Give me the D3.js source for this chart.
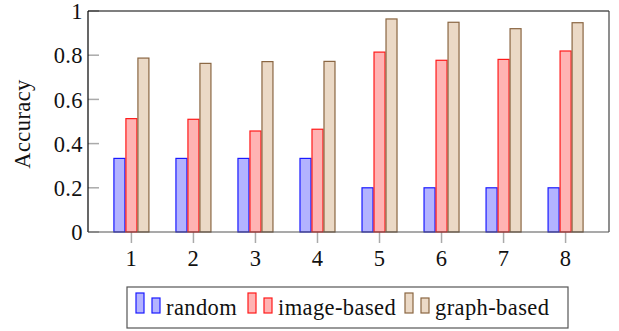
<!DOCTYPE html>
<html><head><meta charset="utf-8">
<script src="https://cdn.jsdelivr.net/npm/d3@7"></script>
<style>body{margin:0;background:#fff;} text{font-family:"Liberation Serif","DejaVu Serif",serif;fill:#111;letter-spacing:0.4px;}</style>
</head><body><svg id="c" width="619" height="331"></svg>
<script>
const categories = [1,2,3,4,5,6,7,8];
const seriesNames = ["random","image-based","graph-based"];
const randomVals = [0.333,0.333,0.333,0.333,0.2,0.2,0.2,0.2];
const imageVals = [0.513,0.510,0.457,0.465,0.814,0.777,0.781,0.819];
const graphVals = [0.787,0.763,0.771,0.772,0.964,0.949,0.920,0.947];
const yTicks = [0,0.2,0.4,0.6,0.8,1];
const yTickLabels = ["0","0.2","0.4","0.6","0.8","1"];

const fills = ["#b3b3ff","#ffb3b3","#ebd9c6"];
const strokes = ["#1a1aff","#ff1a1a","#8a6642"];
const series = [randomVals, imageVals, graphVals];

const svg = d3.select("#c");
const L=88,R=609,T=11,B=232;
const x = d3.scaleLinear().domain([0.3,8.7]).range([L,R]);
const y = d3.scaleLinear().domain([0,1]).range([B,T]);
const bw=11, offs=[-12,0,12];
const FS=22.5;

// y ticks (inside)
svg.append("g").selectAll("line").data(yTicks).join("line")
  .attr("x1",L).attr("x2",L+11).attr("y1",d=>y(d)).attr("y2",d=>y(d))
  .attr("stroke","#aaa").attr("stroke-width",1.5);
svg.append("g").selectAll("text").data(yTicks).join("text")
  .attr("x",L-5).attr("y",d=>y(d)).attr("dy","0.36em").attr("text-anchor","end")
  .attr("font-size",FS).text((d,i)=>yTickLabels[i]);
// x ticks (outside)
svg.append("g").selectAll("line").data(categories).join("line")
  .attr("x1",d=>x(d)).attr("x2",d=>x(d)).attr("y1",B).attr("y2",B+11)
  .attr("stroke","#aaa").attr("stroke-width",1.5);
svg.append("g").selectAll("text").data(categories).join("text")
  .attr("x",d=>x(d)).attr("y",266).attr("text-anchor","middle")
  .attr("font-size",FS).text(d=>d);

// bars
series.forEach((vals,si)=>{
  svg.append("g").selectAll("rect").data(vals).join("rect")
    .attr("x",(d,i)=>x(categories[i])+offs[si]-bw/2)
    .attr("y",d=>y(d)).attr("width",bw).attr("height",d=>y(0)-y(d))
    .attr("fill",fills[si]).attr("stroke",strokes[si]).attr("stroke-width",1.2);
});

// frame
svg.append("line").attr("x1",L).attr("x2",R).attr("y1",T).attr("y2",T).attr("stroke","#000").attr("stroke-width",1.2);
svg.append("line").attr("x1",L).attr("x2",L).attr("y1",T).attr("y2",B).attr("stroke","#000").attr("stroke-width",1.2);
svg.append("line").attr("x1",R).attr("x2",R).attr("y1",T).attr("y2",B).attr("stroke","#444").attr("stroke-width",1.2);
svg.append("line").attr("x1",L).attr("x2",R).attr("y1",B).attr("y2",B).attr("stroke","#555").attr("stroke-width",1.2);

// y label
svg.append("text").attr("transform","translate(30,124) rotate(-90)")
  .attr("text-anchor","middle").attr("font-size",FS).text("Accuracy");

// legend
const lg = svg.append("g");
lg.append("rect").attr("x",127).attr("y",287).attr("width",441).attr("height",41)
  .attr("fill","#fff").attr("stroke","#555").attr("stroke-width",1.2);
const legX=[136,248,405];
seriesNames.forEach((name,si)=>{
  const gx=legX[si];
  lg.append("rect").attr("x",gx).attr("y",293).attr("width",8).attr("height",20)
    .attr("fill",fills[si]).attr("stroke",strokes[si]).attr("stroke-width",1.2);
  lg.append("rect").attr("x",gx+16).attr("y",298).attr("width",8).attr("height",15)
    .attr("fill",fills[si]).attr("stroke",strokes[si]).attr("stroke-width",1.2);
  lg.append("text").attr("x",gx+30).attr("y",315).attr("font-size",FS).text(name);
});
</script></body></html>
